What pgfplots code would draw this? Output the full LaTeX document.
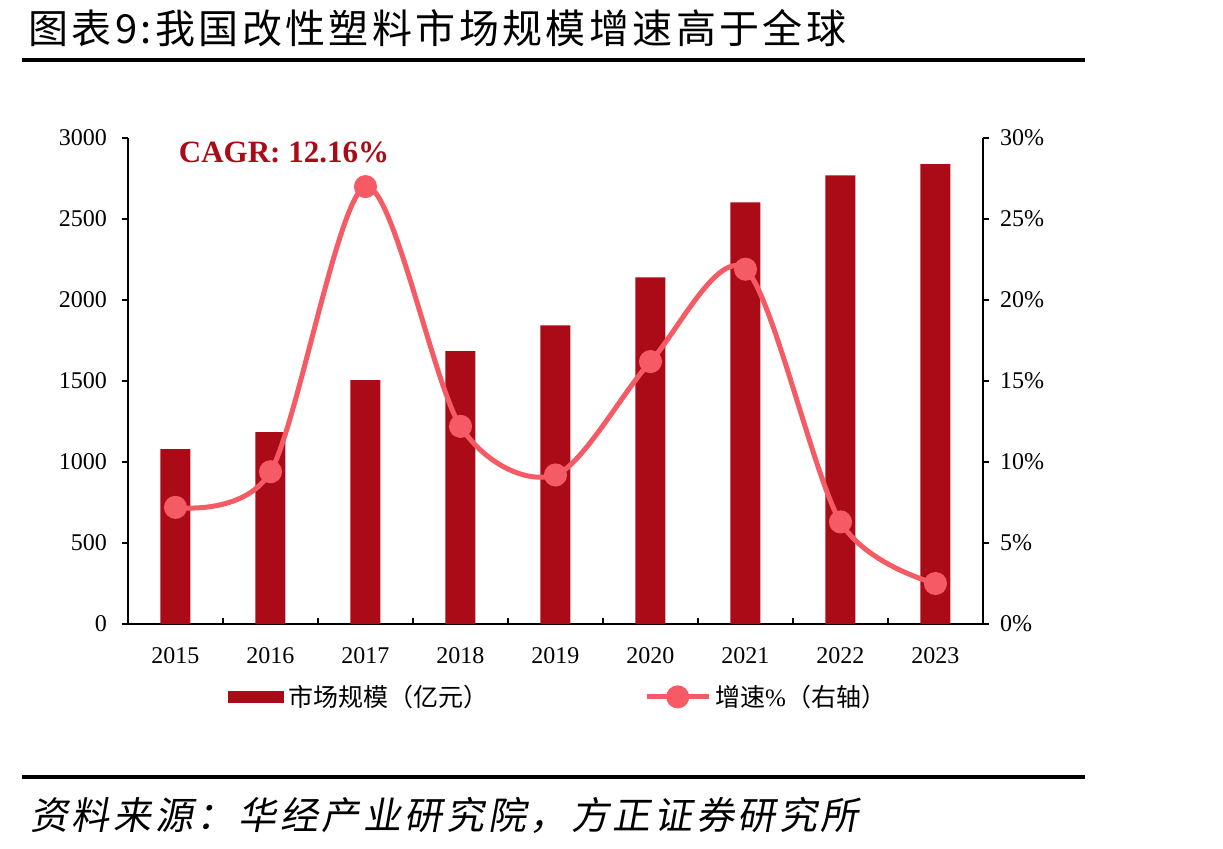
\documentclass[border=0pt]{standalone}
\usepackage{fontspec}
\setmainfont{Liberation Serif}
\newfontfamily\cjk{Noto Sans CJK SC}
\newfontfamily\cjkhead[LetterSpace=8.5]{Noto Sans CJK SC}
\newfontfamily\cjkit[FakeSlant=0.18, LetterSpace=9.5]{Noto Sans CJK SC}
\usepackage{pgfplots}
\pgfplotsset{compat=1.18}
\usepackage{pgfplotstable}

\definecolor{barred}{HTML}{AB0A17}
\definecolor{linered}{HTML}{F45B65}

% market size (100 million CNY) and year-on-year growth (%)
\pgfplotstableread{
idx year size growth
0 2015 1080 7.2
1 2016 1185 9.4
2 2017 1505 27.0
3 2018 1685 12.2
4 2019 1843 9.2
5 2020 2140 16.2
6 2021 2603 21.9
7 2022 2770 6.3
8 2023 2838 2.5
}\datatable

\begin{document}
\begin{tikzpicture}
\useasboundingbox (0,0) rectangle (611.5pt,424pt);

% heading and rules
\node[anchor=west, inner sep=0pt] at (14pt,410pt)
  {\cjkhead\fontsize{20pt}{20pt}\selectfont 图表9:我国改性塑料市场规模增速高于全球};
\draw[line width=2pt] (11pt,394pt) -- (542.5pt,394pt);
\draw[line width=2pt] (11pt,35.5pt) -- (542.5pt,35.5pt);
\node[anchor=west, inner sep=0pt] at (15pt,16.5pt)
  {\cjkit\fontsize{19pt}{19pt}\selectfont 资料来源：华经产业研究院，方正证券研究所};

% left axis: market size bars
\begin{axis}[
  at={(64pt,112pt)}, anchor=south west,
  scale only axis, width=427.5pt, height=243pt,
  xmin=-0.5, xmax=8.5, ymin=0, ymax=3000,
  axis x line*=bottom, axis y line*=left,
  axis line style={line width=1pt, black},
  xtick={-0.5,0.5,...,8.5}, x tick label as interval,
  xticklabels={2015,2016,2017,2018,2019,2020,2021,2022,2023},
  ytick={0,500,...,3000},
  scaled y ticks=false,
  xtick align=inside, ytick align=outside,
  major tick length=3pt,
  tick style={line width=1pt, black},
  tick label style={font=\fontsize{12pt}{12pt}\selectfont},
  xticklabel style={yshift=-8pt},
  yticklabel style={xshift=-4pt},
  /pgf/number format/1000 sep={},
  /pgf/number format/assume math mode=true,
]
\addplot[ybar, bar width=15pt, fill=barred, draw=none]
  table[x=idx, y=size] {\datatable};
\end{axis}

% right axis: growth rate line
\begin{axis}[
  at={(64pt,112pt)}, anchor=south west,
  scale only axis, width=427.5pt, height=243pt,
  xmin=-0.5, xmax=8.5, ymin=0, ymax=30,
  hide x axis,
  axis y line*=right,
  axis line style={line width=1pt, black},
  ytick={0,5,...,30},
  ytick align=outside,
  major tick length=3pt,
  tick style={line width=1pt, black},
  yticklabel={\pgfmathprintnumber{\tick}\%},
  tick label style={font=\fontsize{12pt}{12pt}\selectfont},
  yticklabel style={xshift=2pt},
  /pgf/number format/assume math mode=true,
  legend columns=2,
  legend style={at={(0.117,-0.150)}, anchor=west, draw=none, fill=none,
    inner sep=0pt, font=\fontsize{12.5pt}{12.5pt}\selectfont,
    /tikz/every even column/.append style={column sep=76pt}},
]
\addlegendimage{legend image code/.code={
  \fill[barred] (0pt,-2.9pt) rectangle (27.5pt,2.9pt);}}
\addlegendentry{\cjk 市场规模（亿元）}
\addplot[linered, line width=2.5pt, smooth, mark=*, mark size=4.5pt,
  mark options={fill=linered, draw=linered},
  legend image code/.code={
    \draw[mark repeat=2, mark phase=2]
      plot coordinates {(0pt,0pt) (15.5pt,0pt) (31pt,0pt)};}]
  table[x=idx, y=growth] {\datatable};
\addlegendentry{{\cjk 增速}\%{\cjk （右轴）}}
\end{axis}

\node[text=barred, inner sep=0pt,
  font=\bfseries\fontsize{15.5pt}{15.5pt}\selectfont] at (142pt,348pt) {CAGR: 12.16\%};
\end{tikzpicture}
\end{document}
